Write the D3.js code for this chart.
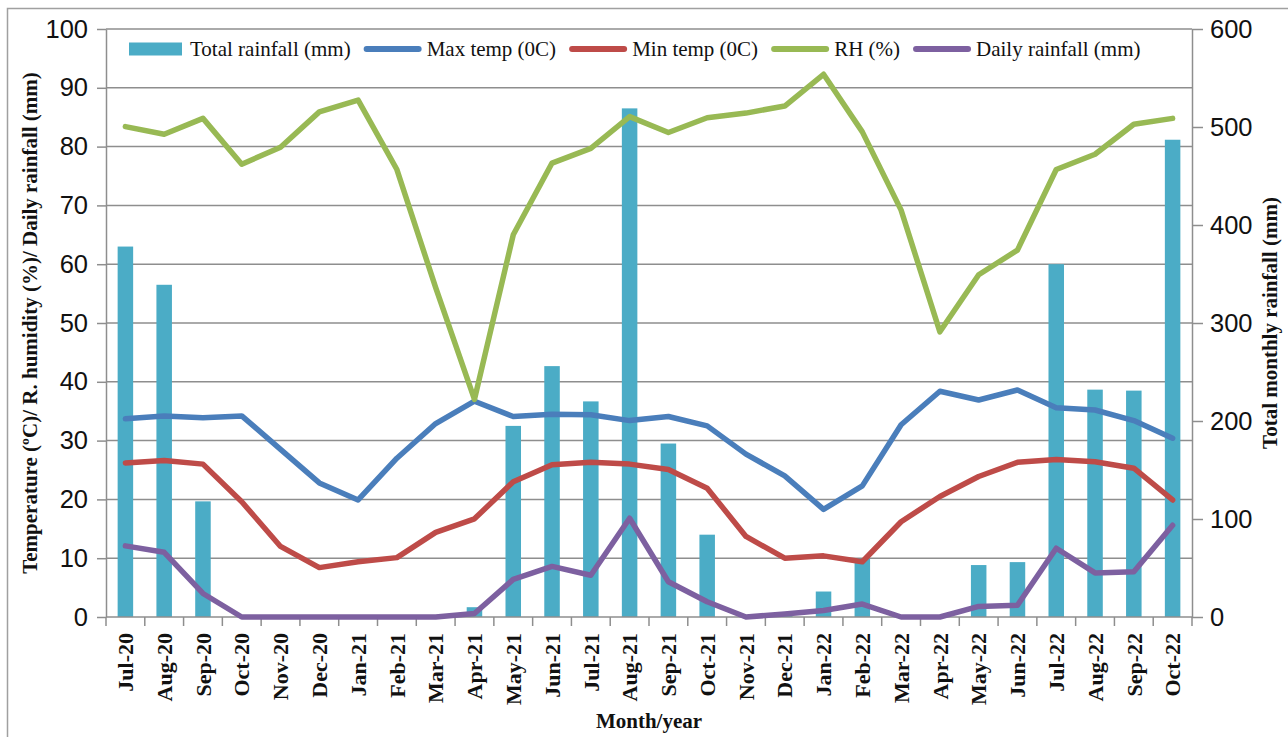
<!DOCTYPE html>
<html>
<head>
<meta charset="utf-8">
<script src="https://cdn.jsdelivr.net/npm/d3@7"></script>
<style>
  html, body { margin: 0; padding: 0; background: #fff; }
  svg { display: block; }
</style>
</head>
<body>
<svg id="chart" width="1288" height="737"></svg>
<script>
const categories = ['Jul-20','Aug-20','Sep-20','Oct-20','Nov-20','Dec-20','Jan-21','Feb-21','Mar-21','Apr-21','May-21','Jun-21','Jul-21','Aug-21','Sep-21','Oct-21','Nov-21','Dec-21','Jan-22','Feb-22','Mar-22','Apr-22','May-22','Jun-22','Jul-22','Aug-22','Sep-22','Oct-22'];
const totalRainfall = [378,339,118,0,0,0,0,0,0,10,195,256,220,519,177,84,0,5,26,60,0,0,53,56,360,232,231,487];
const maxTemp = [33.7,34.2,33.9,34.2,28.5,22.8,19.9,27.0,32.9,36.7,34.1,34.5,34.4,33.4,34.1,32.5,27.7,24.0,18.3,22.3,32.7,38.4,36.9,38.6,35.6,35.2,33.4,30.4];
const minTemp = [26.2,26.6,26.0,19.6,12.0,8.4,9.4,10.1,14.4,16.7,23.0,25.9,26.3,26.0,25.1,21.9,13.7,10.0,10.4,9.4,16.2,20.5,23.9,26.3,26.8,26.4,25.3,19.9];
const rh = [83.4,82.1,84.8,77.0,79.9,85.9,87.9,76.1,56,37,65.0,77.2,79.7,85.1,82.4,84.9,85.7,86.9,92.3,82.5,69.2,48.5,58.2,62.4,76.1,78.7,83.8,84.8];
const dailyRainfall = [12.1,11.0,4.0,0,0,0,0,0,0,0.6,6.4,8.6,7.1,16.8,6.0,2.6,0,0.5,1.1,2.2,0,0,1.8,2.0,11.7,7.5,7.7,15.6];
const leftTicks = [0,10,20,30,40,50,60,70,80,90,100];
const rightTicks = [0,100,200,300,400,500,600];
const seriesNames = ['Total rainfall (mm)','Max temp (0C)','Min temp (0C)','RH (%)','Daily rainfall (mm)'];

const colors = { bar:'#4bacc6', max:'#4a7ebb', min:'#be4b48', rh:'#98b954', daily:'#7d60a0' };
const gridColor = '#8e8e8e';
const sansFont = '"Liberation Sans", Arial, sans-serif';
const serifFont = '"Liberation Serif", "Times New Roman", serif';

const svg = d3.select('#chart');
const L = 106, R = 1192, T = 29, B = 617;

const x = d3.scaleBand().domain(categories).range([L, R]).padding(0);
const yL = d3.scaleLinear().domain([0, 100]).range([B, T]);
const yR = d3.scaleLinear().domain([0, 600]).range([B, T]);

// outer border
svg.append('rect').attr('x', 7.5).attr('y', 8.5).attr('width', 1300).attr('height', 760)
  .attr('fill', 'none').attr('stroke', '#a0a0a0').attr('stroke-width', 1.5);

// gridlines
svg.append('g').selectAll('line').data(leftTicks.filter(d => d > 0)).join('line')
  .attr('x1', L).attr('x2', R).attr('y1', d => yL(d)).attr('y2', d => yL(d))
  .attr('stroke', gridColor).attr('stroke-width', 1.5);

// bars
const bw = x.bandwidth() * 0.4;
svg.append('g').selectAll('rect').data(categories).join('rect')
  .attr('x', (d) => x(d) + x.bandwidth() / 2 - bw / 2)
  .attr('width', bw)
  .attr('y', (d, i) => yR(totalRainfall[i]))
  .attr('height', (d, i) => B - yR(totalRainfall[i]))
  .attr('fill', colors.bar);

// axes
const leftAxis = svg.append('g').attr('transform', `translate(${L},0)`)
  .call(d3.axisLeft(yL).tickValues(leftTicks).tickSize(9).tickPadding(9).tickSizeOuter(0));
const rightAxis = svg.append('g').attr('transform', `translate(${R},0)`)
  .call(d3.axisRight(yR).tickValues(rightTicks).tickSize(11).tickPadding(7).tickSizeOuter(0));
[leftAxis, rightAxis].forEach(g => {
  g.select('.domain').attr('stroke', gridColor).attr('stroke-width', 1.5);
  g.selectAll('.tick line').attr('stroke', gridColor).attr('stroke-width', 1.5);
  g.selectAll('.tick text').attr('font-family', sansFont).attr('font-size', 25.5).attr('fill', '#111');
});

// bottom axis line and boundary ticks
svg.append('line').attr('x1', L).attr('x2', R).attr('y1', B).attr('y2', B)
  .attr('stroke', gridColor).attr('stroke-width', 1.5);
const bounds = categories.map(c => x(c)).concat([x(categories[categories.length - 1]) + x.bandwidth()]);
svg.append('g').selectAll('line').data(bounds).join('line')
  .attr('x1', d => d).attr('x2', d => d).attr('y1', B).attr('y2', B + 9)
  .attr('stroke', gridColor).attr('stroke-width', 1.5);

// x tick labels
svg.append('g').selectAll('text').data(categories).join('text')
  .attr('transform', d => `translate(${x(d) + x.bandwidth() / 2},633) rotate(-90)`)
  .attr('text-anchor', 'end').attr('dy', '0.35em')
  .attr('font-family', serifFont).attr('font-weight', 'bold').attr('font-size', 22)
  .attr('fill', '#111').text(d => d);

// lines
const line = arr => d3.line().x((d, i) => x(categories[i]) + x.bandwidth() / 2).y(d => yL(d))(arr);
[[maxTemp, colors.max], [minTemp, colors.min], [rh, colors.rh], [dailyRainfall, colors.daily]].forEach(([arr, c]) => {
  svg.append('path').attr('d', line(arr)).attr('fill', 'none').attr('stroke', c)
    .attr('stroke-width', 5.5).attr('stroke-linejoin', 'round').attr('stroke-linecap', 'round');
});

// axis titles
svg.append('text').attr('x', (L + R) / 2).attr('y', 728).attr('text-anchor', 'middle')
  .attr('font-family', serifFont).attr('font-weight', 'bold').attr('font-size', 21).attr('fill', '#111')
  .text('Month/year');
svg.append('text').attr('transform', `translate(30,${(T + B) / 2}) rotate(-90)`)
  .attr('text-anchor', 'middle').attr('dy', '0.35em')
  .attr('font-family', serifFont).attr('font-weight', 'bold').attr('font-size', 21).attr('fill', '#111')
  .text('Temperature (ºC)/ R. humidity (%)/ Daily rainfall (mm)');
svg.append('text').attr('transform', `translate(1270,${(T + B) / 2}) rotate(-90)`)
  .attr('text-anchor', 'middle').attr('dy', '0.35em')
  .attr('font-family', serifFont).attr('font-weight', 'bold').attr('font-size', 21).attr('fill', '#111')
  .text('Total monthly rainfall (mm)');

// legend
const legendColors = [colors.bar, colors.max, colors.min, colors.rh, colors.daily];
const lg = svg.append('g');
let lx = 129;
const ly = 49;
seriesNames.forEach((name, i) => {
  if (i === 0) {
    lg.append('rect').attr('x', lx).attr('y', ly - 6.5).attr('width', 53).attr('height', 13).attr('fill', legendColors[i]);
    lx += 53 + 8;
  } else {
    lg.append('line').attr('x1', lx + 3).attr('x2', lx + 55).attr('y1', ly).attr('y2', ly)
      .attr('stroke', legendColors[i]).attr('stroke-width', 6).attr('stroke-linecap', 'round');
    lx += 58 + 5;
  }
  const t = lg.append('text').attr('x', lx).attr('y', ly).attr('dy', '0.33em')
    .attr('font-family', serifFont).attr('font-size', 21).attr('fill', '#111').text(name);
  lx += t.node().getComputedTextLength() + 13;
});
</script>
</body>
</html>
